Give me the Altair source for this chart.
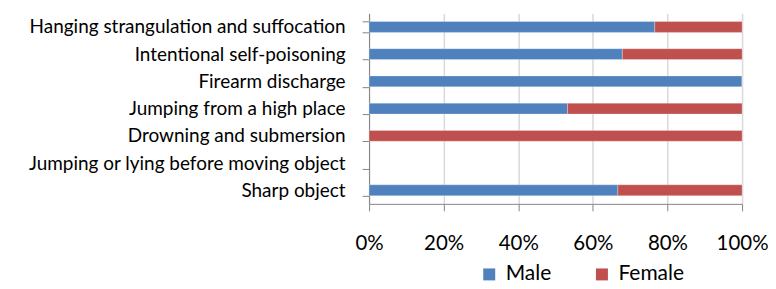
import altair as alt
import pandas as pd

categories = [
    "Hanging strangulation and suffocation",
    "Intentional self-poisoning",
    "Firearm discharge",
    "Jumping from a high place",
    "Drowning and submersion",
    "Jumping or lying before moving  object",
    "Sharp object",
]
male = [0.766, 0.679, 1.0, 0.532, 0.0, None, 0.667]
female = [0.234, 0.321, 0.0, 0.468, 1.0, None, 0.333]
series = ["Male", "Female"]
colors = ["#4F81BD", "#C0504D"]
ticks = [0, 0.2, 0.4, 0.6, 0.8, 1.0]

rows = []
for c, m, f in zip(categories, male, female):
    if m is not None:
        rows.append({"cat": c, "sex": "Male", "val": m, "ord": 0})
    if f is not None:
        rows.append({"cat": c, "sex": "Female", "val": f, "ord": 1})
df = pd.DataFrame(rows)

FONT = "Lato"

chart = alt.Chart(df).mark_bar(stroke="white", strokeOpacity=0.35, strokeWidth=0.8).encode(
    y=alt.Y("cat:N", scale=alt.Scale(domain=categories, paddingInner=0.6, paddingOuter=0.3),
            axis=alt.Axis(title=None, tickBand="extent", tickSize=7, labelPadding=17,
                          labelFontSize=19, labelColor="#000000", labelFont=FONT,
                          domainColor="#868686", tickColor="#868686", labelLimit=400)),
    x=alt.X("val:Q", stack="zero", scale=alt.Scale(domain=[0, 1], nice=False),
            axis=alt.Axis(title=None, format=".0%", values=ticks, tickSize=7, labelPadding=23,
                          labelFontSize=20.5, labelColor="#000000", labelFont=FONT,
                          labelFlush=False, labelOverlap=False,
                          domainColor="#868686", tickColor="#868686",
                          grid=True, gridColor="#D9D9D9", gridWidth=1.5)),
    color=alt.Color("sex:N", scale=alt.Scale(domain=series, range=colors),
                    legend=alt.Legend(title=None, orient="none", legendX=110, legendY=251,
                                      direction="horizontal", symbolType="square",
                                      symbolSize=144, symbolStrokeWidth=0,
                                      labelFontSize=21, labelFont=FONT, labelColor="#000000",
                                      labelOffset=6, columnPadding=40, padding=0)),
    order=alt.Order("ord:Q"),
).properties(
    width=374, height=191,
    autosize=alt.AutoSizeParams(type="none"),
    padding={"left": 362, "top": 5, "right": 26, "bottom": 85},
).configure_view(stroke=None)

chart.save("out.html", embed_options={"renderer": "svg", "actions": False})
